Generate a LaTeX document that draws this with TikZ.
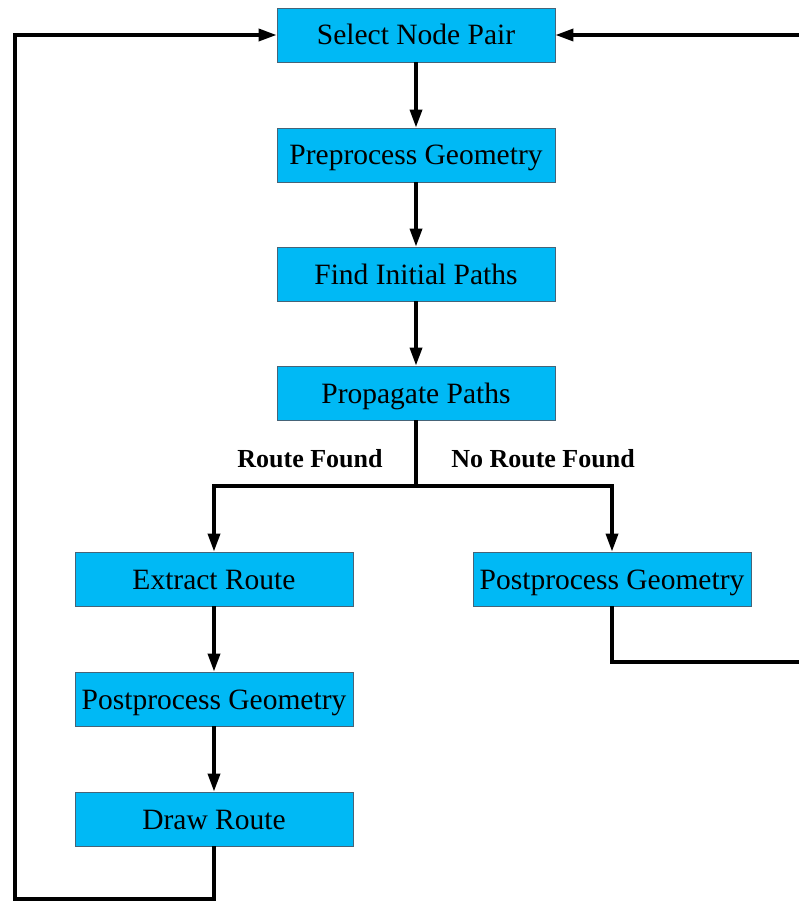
\documentclass[tikz,border=0pt]{standalone}
\usepackage{fontspec}
\setmainfont{Liberation Serif}
\usetikzlibrary{arrows.meta}
\definecolor{boxfill}{RGB}{0,185,245}
\definecolor{boxline}{RGB}{70,100,120}
\tikzset{
  stepbox/.style={draw=boxline, line width=0.8pt, fill=boxfill, minimum width=278pt, minimum height=54pt, inner sep=0pt, text height=25pt, text depth=5pt, font=\fontsize{29.5}{34}\selectfont},
  flow/.style={line width=3.5pt, -{Triangle[length=18pt, width=12pt]}},
  plain/.style={line width=3.5pt},
  lbl/.style={font=\fontsize{26}{30}\selectfont\bfseries, inner sep=0pt, anchor=base}
}
\begin{document}
\begin{tikzpicture}[x=1pt, y=-1pt]
\useasboundingbox (0,0) rectangle (798,901);
\node[stepbox] (select) at (416,35) {Select Node Pair};
\node[stepbox] (pre) at (416,155) {Preprocess Geometry};
\node[stepbox] (find) at (416,274) {Find Initial Paths};
\node[stepbox] (prop) at (416,393) {Propagate Paths};
\node[stepbox] (extract) at (214,579) {Extract Route};
\node[stepbox] (postR) at (612,579) {Postprocess Geometry};
\node[stepbox] (postL) at (214,699) {Postprocess Geometry};
\node[stepbox] (drawr) at (214,819) {Draw Route};

\node[lbl] (rf) at (310,467) {Route Found};
\node[lbl] (nrf) at (543,467) {No Route Found};

\coordinate (split) at (416,486);
\coordinate (rtop) at (802,35);
\coordinate (rbot) at (802,662);
\coordinate (ltop) at (15,35);
\coordinate (lbot) at (15,899);

\draw[flow] (select) -- (pre);
\draw[flow] (pre) -- (find);
\draw[flow] (find) -- (prop);
\draw[plain] (prop.south) -- (split);
\draw[flow] (split) -| (extract.north);
\draw[flow] (split) -| (postR.north);
\draw[flow] (extract) -- (postL);
\draw[flow] (postL) -- (drawr);
\draw[flow] (postR.south) |- (rbot) -- (rtop) -- (select.east);
\draw[flow] (drawr.south) |- (lbot) -- (ltop) -- (select.west);
\end{tikzpicture}
\end{document}
